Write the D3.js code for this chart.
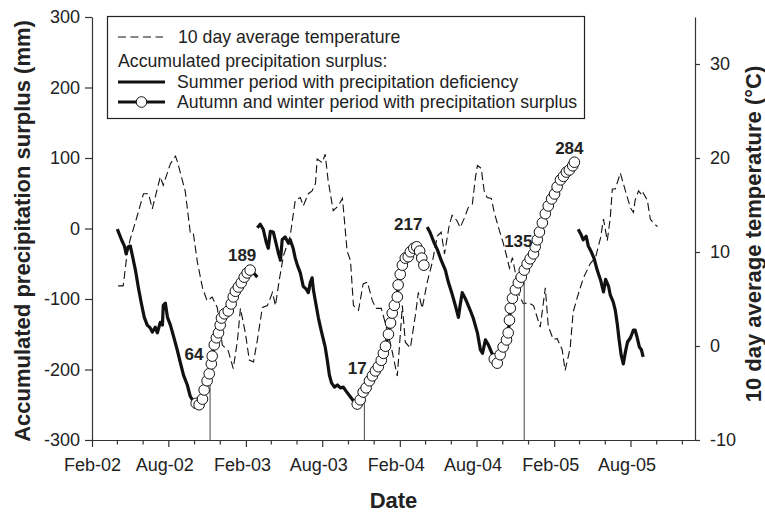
<!DOCTYPE html>
<html>
<head>
<meta charset="utf-8">
<script src="https://cdn.jsdelivr.net/npm/d3@7"></script>
<style>
  body { margin: 0; background: #fff; }
  svg text { font-family: "Liberation Sans", Arial, sans-serif; }
</style>
</head>
<body>
<svg width="765" height="512"></svg>
<script>
// 10 day average temperature (°C), right axis
var temperature = [
  ["2002-04-04",6.4],["2002-04-16",6.4],["2002-04-26",10.1],["2002-05-03",11.4],["2002-05-19",13.8],
  ["2002-06-03",16.2],["2002-06-15",16.2],["2002-06-24",14.6],["2002-07-13",18.0],["2002-07-20",17.1],
  ["2002-08-06",19.4],["2002-08-18",20.2],["2002-08-22",19.7],["2002-09-10",16.5],["2002-09-22",12.1],
  ["2002-09-29",12.1],["2002-10-09",8.9],["2002-10-21",6.2],["2002-11-01",4.8],["2002-11-13",5.2],
  ["2002-11-25",4.1],["2002-12-07",0.1],["2002-12-21",-0.5],["2003-01-02",-2.4],["2003-01-12",0.6],
  ["2003-01-19",4.0],["2003-01-31",1.3],["2003-02-09",-1.5],["2003-02-19",-1.7],["2003-02-28",0.6],
  ["2003-03-12",4.1],["2003-03-24",4.3],["2003-04-05",5.7],["2003-04-12",4.3],["2003-04-21",7.0],
  ["2003-05-01",9.6],["2003-05-17",11.7],["2003-05-29",15.5],["2003-06-10",15.8],["2003-06-17",14.9],
  ["2003-06-29",16.2],["2003-07-08",16.5],["2003-07-16",17.3],["2003-07-20",19.9],["2003-08-01",19.5],
  ["2003-08-08",20.4],["2003-08-15",17.6],["2003-08-27",14.4],["2003-09-08",14.9],["2003-09-18",15.7],
  ["2003-09-29",10.1],["2003-10-07",9.1],["2003-10-14",4.3],["2003-10-26",3.8],["2003-11-06",6.6],
  ["2003-11-16",6.8],["2003-11-28",4.8],["2003-12-07",4.0],["2003-12-19",4.0],["2004-01-02",1.7],
  ["2004-01-12",-0.2],["2004-01-26",-3.2],["2004-02-07",4.3],["2004-02-14",0.4],["2004-02-26",-0.2],
  ["2004-03-09",3.3],["2004-03-16",5.7],["2004-03-25",4.0],["2004-04-06",6.8],["2004-04-18",8.9],
  ["2004-04-30",11.7],["2004-05-09",12.1],["2004-05-17",9.8],["2004-05-28",12.8],["2004-06-04",13.9],
  ["2004-06-16",13.3],["2004-06-23",12.6],["2004-07-03",13.6],["2004-07-12",14.7],["2004-07-22",15.1],
  ["2004-07-29",17.8],["2004-08-03",19.2],["2004-08-12",18.9],["2004-08-19",16.5],["2004-08-26",15.8],
  ["2004-09-05",15.7],["2004-09-12",14.2],["2004-09-24",12.3],["2004-10-03",11.0],["2004-10-11",9.6],
  ["2004-10-18",8.3],["2004-10-25",9.4],["2004-11-01",7.8],["2004-11-10",5.4],["2004-11-20",4.5],
  ["2004-12-02",4.6],["2004-12-14",4.3],["2004-12-30",2.0],["2005-01-11",6.2],["2005-01-18",2.1],
  ["2005-01-30",0.7],["2005-02-08",0.8],["2005-02-20",-0.4],["2005-02-27",-2.6],["2005-03-11",-0.2],
  ["2005-03-18",3.6],["2005-03-28",5.2],["2005-04-11",7.2],["2005-04-28",8.8],["2005-05-10",9.4],
  ["2005-05-22",11.5],["2005-05-29",13.5],["2005-06-07",11.2],["2005-06-14",13.6],["2005-06-19",16.7],
  ["2005-06-26",16.7],["2005-07-08",18.4],["2005-07-20",16.5],["2005-08-01",14.7],["2005-08-08",14.2],
  ["2005-08-12",15.5],["2005-08-20",16.5],["2005-08-29",16.0],["2005-08-31",16.3],["2005-09-10",15.5],
  ["2005-09-17",13.5],["2005-09-24",13.1],["2005-10-04",12.7]
];

// accumulated precipitation surplus (mm): summer periods with deficiency
var summer2002 = [
  ["2002-04-02",-1],["2002-04-12",-16],["2002-04-19",-25],["2002-04-23",-36],["2002-04-28",-26],
  ["2002-05-03",-25],["2002-05-08",-39],["2002-05-15",-59],["2002-05-22",-84],["2002-05-29",-106],
  ["2002-06-05",-126],["2002-06-12",-137],["2002-06-19",-141],["2002-06-24",-147],["2002-07-01",-140],
  ["2002-07-06",-148],["2002-07-13",-133],["2002-07-18",-137],["2002-07-20",-109],["2002-07-25",-106],
  ["2002-07-30",-126],["2002-08-06",-137],["2002-08-13",-152],["2002-08-22",-172],["2002-08-29",-189],
  ["2002-09-06",-208],["2002-09-15",-222],["2002-09-22",-238],["2002-09-29",-245],["2002-10-06",-248]
];
var summerEnd2003 = [["2003-02-11",-59],["2003-02-19",-63],["2003-02-28",-69]];
var summer2003 = [
  ["2003-02-28",1],["2003-03-07",6],["2003-03-14",-1],["2003-03-21",-19],["2003-03-26",-28],
  ["2003-03-31",-4],["2003-04-07",-5],["2003-04-14",-22],["2003-04-19",-35],["2003-04-24",-45],
  ["2003-04-28",-16],["2003-05-05",-12],["2003-05-13",-21],["2003-05-17",-16],["2003-05-24",-28],
  ["2003-05-29",-42],["2003-06-03",-52],["2003-06-10",-63],["2003-06-17",-82],["2003-06-24",-86],
  ["2003-06-29",-91],["2003-07-04",-76],["2003-07-08",-70],["2003-07-11",-87],["2003-07-16",-104],
  ["2003-07-23",-127],["2003-07-27",-138],["2003-08-01",-151],["2003-08-08",-168],["2003-08-13",-187],
  ["2003-08-18",-208],["2003-08-23",-219],["2003-08-30",-225],["2003-09-06",-222],["2003-09-13",-226],
  ["2003-09-20",-225],["2003-09-27",-231],["2003-10-07",-239],["2003-10-16",-246],["2003-10-23",-249]
];
var summer2004 = [
  ["2004-04-06",2],["2004-04-13",-6],["2004-04-23",-21],["2004-04-30",-30],["2004-05-09",-45],
  ["2004-05-19",-59],["2004-05-26",-76],["2004-06-04",-93],["2004-06-12",-110],["2004-06-19",-126],
  ["2004-06-23",-109],["2004-06-28",-91],["2004-07-05",-99],["2004-07-10",-106],["2004-07-17",-116],
  ["2004-07-24",-127],["2004-08-03",-148],["2004-08-10",-172],["2004-08-15",-177],["2004-08-22",-158],
  ["2004-08-29",-165],["2004-09-05",-175],["2004-09-12",-185]
];
var summer2005 = [
  ["2005-03-30",-1],["2005-04-06",-9],["2005-04-11",-16],["2005-04-18",-11],["2005-04-23",-25],
  ["2005-04-30",-33],["2005-05-07",-43],["2005-05-14",-59],["2005-05-22",-73],["2005-05-29",-90],
  ["2005-06-03",-72],["2005-06-10",-82],["2005-06-14",-94],["2005-06-21",-104],["2005-06-26",-116],
  ["2005-07-01",-137],["2005-07-05",-158],["2005-07-10",-180],["2005-07-15",-192],["2005-07-20",-175],
  ["2005-07-25",-161],["2005-08-01",-155],["2005-08-08",-144],["2005-08-12",-144],["2005-08-17",-155],
  ["2005-08-22",-168],["2005-08-27",-172],["2005-08-31",-182]
];

// autumn and winter periods with surplus
var autumn2002 = [
  ["2002-10-06",-248],["2002-10-13",-250],["2002-10-21",-242],["2002-10-25",-229],["2002-11-01",-216],
  ["2002-11-06",-206],["2002-11-11",-192],["2002-11-13",-181],["2002-11-18",-165],["2002-11-23",-155],
  ["2002-11-28",-148],["2002-12-02",-137],["2002-12-05",-127],["2002-12-12",-121],["2002-12-21",-117],
  ["2002-12-28",-107],["2003-01-02",-97],["2003-01-07",-89],["2003-01-14",-83],["2003-01-21",-77],
  ["2003-01-28",-69],["2003-02-04",-63],["2003-02-11",-59]
];
var autumn2003 = [
  ["2003-10-23",-249],["2003-10-30",-243],["2003-11-06",-232],["2003-11-13",-226],["2003-11-21",-216],
  ["2003-11-28",-209],["2003-12-05",-202],["2003-12-12",-196],["2003-12-19",-187],["2003-12-24",-177],
  ["2003-12-29",-167],["2004-01-05",-150],["2004-01-10",-134],["2004-01-14",-120],["2004-01-19",-109],
  ["2004-01-26",-97],["2004-01-28",-80],["2004-02-02",-65],["2004-02-07",-52],["2004-02-14",-42],
  ["2004-02-21",-40],["2004-02-26",-33],["2004-03-05",-28],["2004-03-12",-26],["2004-03-19",-32],
  ["2004-03-24",-42],["2004-03-29",-52]
];
var autumn2004 = [
  ["2004-09-12",-185],["2004-09-19",-191],["2004-09-26",-179],["2004-10-03",-168],["2004-10-11",-158],
  ["2004-10-15",-148],["2004-10-18",-130],["2004-10-20",-113],["2004-10-25",-99],["2004-11-01",-87],
  ["2004-11-08",-77],["2004-11-15",-69],["2004-11-22",-59],["2004-11-29",-50],["2004-12-06",-43],
  ["2004-12-14",-36],["2004-12-18",-26],["2004-12-23",-16],["2004-12-28",-5],["2005-01-04",8],
  ["2005-01-11",21],["2005-01-18",32],["2005-01-26",42],["2005-02-02",49],["2005-02-08",59],
  ["2005-02-16",69],["2005-02-23",74],["2005-03-02",80],["2005-03-09",83],["2005-03-17",89],
  ["2005-03-21",94]
];

// thin vertical reference lines
var markDates = ["2002-11-08", "2003-11-09", "2004-11-22"];

// increase labels
var noteTexts = ["64", "189", "17", "217", "135", "284"];
var noteDates = ["2002-10-01", "2003-01-23", "2003-10-23", "2004-02-21", "2004-11-08", "2005-03-09"];
var noteValues = [-179, -39, -198, 6, -18, 114];

var parse = d3.timeParse("%Y-%m-%d");
var font = '"Liberation Sans", Arial, sans-serif';

var svg = d3.select("svg");
var margin = {left: 92, right: 70, top: 17, bottom: 72};
var width = 765 - margin.left - margin.right,
    height = 512 - margin.top - margin.bottom;

var x = d3.scaleTime().domain([parse("2002-02-01"), parse("2006-01-01")]).range([0, width]);
var y = d3.scaleLinear().domain([-300, 300]).range([height, 0]);
var y2 = d3.scaleLinear().domain([-10, 35]).range([height, 0]);

var g = svg.append("g")
    .attr("transform", "translate(" + margin.left + "," + margin.top + ")");

// axes: a tick every second month from Feb-02, labels on Feb and Aug
var monthTicks = d3.timeMonth.range(parse("2002-02-01"), parse("2006-01-01"), 2);
var isMajor = function(d) { return d.getMonth() === 1 || d.getMonth() === 7; };
var fmt = d3.timeFormat("%b-%y");
var plain = function(d) { return String(d); };

var xAxis = g.append("g")
    .attr("transform", "translate(0," + height + ")")
    .call(d3.axisBottom(x).tickValues(monthTicks).tickSize(7).tickPadding(11).tickSizeOuter(0)
        .tickFormat(function(d) { return isMajor(d) ? fmt(d) : ""; }));
xAxis.selectAll(".tick line").attr("y2", function(d) { return isMajor(d) ? 7 : 4.5; });
xAxis.selectAll(".tick text").attr("dx", function(d, i) { return i === 0 ? 0 : -4; });

var yAxis = g.append("g")
    .call(d3.axisLeft(y).tickValues(d3.range(-300, 301, 100)).tickFormat(plain)
        .tickSize(7).tickPadding(5).tickSizeOuter(0));

var y2Axis = g.append("g")
    .attr("transform", "translate(" + width + ",0)")
    .call(d3.axisRight(y2).tickValues([-10, 0, 10, 20, 30]).tickFormat(plain)
        .tickSize(5).tickPadding(10).tickSizeOuter(0));

[xAxis, yAxis, y2Axis].forEach(function(a) {
  a.attr("font-family", font).attr("font-size", 18);
  a.selectAll("path, line").attr("stroke", "#333").attr("stroke-width", 1.2);
  a.selectAll("text").attr("fill", "#222");
});

// temperature, dashed
var tempLine = d3.line()
    .x(function(d) { return x(parse(d[0])); })
    .y(function(d) { return y2(d[1]); });

g.append("path")
    .datum(temperature)
    .attr("d", tempLine)
    .attr("fill", "none")
    .attr("stroke", "#111")
    .attr("stroke-width", 1.1)
    .attr("stroke-dasharray", "8,4");

// vertical reference lines, up to the surplus curve
var autumnAll = autumn2002.concat(autumn2003, autumn2004);
var bisect = d3.bisector(function(d) { return parse(d[0]); }).left;
function surplusAt(s) {
  var t = parse(s);
  var i = bisect(autumnAll, t);
  var a = autumnAll[i - 1], b = autumnAll[i];
  var f = (t - parse(a[0])) / (parse(b[0]) - parse(a[0]));
  return a[1] + f * (b[1] - a[1]);
}

g.selectAll(".mark")
    .data(markDates)
    .enter().append("line")
    .attr("x1", function(d) { return x(parse(d)); })
    .attr("x2", function(d) { return x(parse(d)); })
    .attr("y1", height)
    .attr("y2", function(d) { return y(surplusAt(d)); })
    .attr("stroke", "#555")
    .attr("stroke-width", 1.1);

// precipitation surplus lines
var pLine = d3.line()
    .x(function(d) { return x(parse(d[0])); })
    .y(function(d) { return y(d[1]); });

[summer2002, summerEnd2003, summer2003, summer2004, summer2005].forEach(function(seg) {
  g.append("path")
      .datum(seg)
      .attr("d", pLine)
      .attr("fill", "none")
      .attr("stroke", "#111")
      .attr("stroke-width", 3.2)
      .attr("stroke-linejoin", "round");
});

[autumn2002, autumn2003, autumn2004].forEach(function(seg) {
  g.append("path")
      .datum(seg)
      .attr("d", pLine)
      .attr("fill", "none")
      .attr("stroke", "#111")
      .attr("stroke-width", 3.2);
  g.append("g").selectAll("circle")
      .data(seg)
      .enter().append("circle")
      .attr("cx", function(d) { return x(parse(d[0])); })
      .attr("cy", function(d) { return y(d[1]); })
      .attr("r", 5.3)
      .attr("fill", "#fff")
      .attr("stroke", "#111")
      .attr("stroke-width", 1);
});

// increase labels
g.selectAll(".note")
    .data(noteTexts)
    .enter().append("text")
    .attr("x", function(d, i) { return x(parse(noteDates[i])); })
    .attr("y", function(d, i) { return y(noteValues[i]); })
    .attr("text-anchor", "middle")
    .attr("dominant-baseline", "central")
    .attr("font-family", font)
    .attr("font-size", 17)
    .attr("font-weight", "bold")
    .attr("fill", "#222")
    .text(function(d) { return d; });

// axis titles
svg.append("text")
    .attr("transform", "translate(22,231) rotate(-90)")
    .attr("text-anchor", "middle")
    .attr("dominant-baseline", "central")
    .attr("font-family", font).attr("font-size", 22).attr("font-weight", "bold")
    .attr("fill", "#222")
    .text("Accumulated precipitation surplus (mm)");

svg.append("text")
    .attr("transform", "translate(753,234) rotate(-90)")
    .attr("text-anchor", "middle")
    .attr("dominant-baseline", "central")
    .attr("font-family", font).attr("font-size", 22).attr("font-weight", "bold")
    .attr("fill", "#222")
    .text("10 day average temperature (°C)");

svg.append("text")
    .attr("x", margin.left + width / 2)
    .attr("y", 500)
    .attr("text-anchor", "middle")
    .attr("dominant-baseline", "central")
    .attr("font-family", font).attr("font-size", 22).attr("font-weight", "bold")
    .attr("fill", "#222")
    .text("Date");

// legend
var legend = svg.append("g").attr("font-family", font).attr("font-size", 17.7).attr("fill", "#222");
legend.append("rect")
    .attr("x", 107.5).attr("y", 16.5).attr("width", 477).attr("height", 102)
    .attr("fill", "#fff").attr("stroke", "#222").attr("stroke-width", 1.2);

legend.append("line").attr("x1", 118).attr("x2", 163).attr("y1", 37).attr("y2", 37)
    .attr("stroke", "#111").attr("stroke-width", 1.1).attr("stroke-dasharray", "8,4.5");
legend.append("text").attr("x", 178).attr("y", 37).attr("dominant-baseline", "central")
    .text("10 day average temperature");

legend.append("text").attr("x", 118).attr("y", 61).attr("dominant-baseline", "central")
    .text("Accumulated precipitation surplus:");

legend.append("line").attr("x1", 118).attr("x2", 165).attr("y1", 82).attr("y2", 82)
    .attr("stroke", "#111").attr("stroke-width", 3.2);
legend.append("text").attr("x", 177).attr("y", 82).attr("dominant-baseline", "central")
    .text("Summer period with precipitation deficiency");

legend.append("line").attr("x1", 118).attr("x2", 165).attr("y1", 102).attr("y2", 102)
    .attr("stroke", "#111").attr("stroke-width", 3.2);
legend.append("circle").attr("cx", 141.5).attr("cy", 102).attr("r", 5.3)
    .attr("fill", "#fff").attr("stroke", "#111").attr("stroke-width", 1);
legend.append("text").attr("x", 177).attr("y", 102).attr("dominant-baseline", "central")
    .text("Autumn and winter period with precipitation surplus");
</script>
</body>
</html>
